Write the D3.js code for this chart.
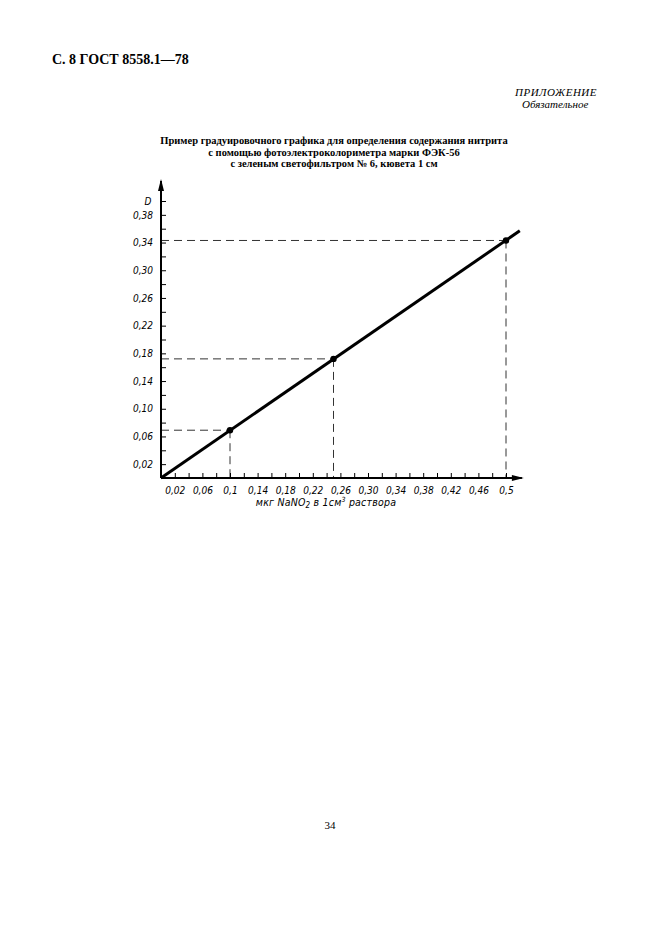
<!DOCTYPE html>
<html>
<head>
<meta charset="utf-8">
<script src="https://cdn.jsdelivr.net/npm/d3@7"></script>
<style>
  body { margin: 0; background: #fff; }
  .tick text { font-family: "Liberation Sans Narrow", "DejaVu Sans Condensed", sans-serif; font-style: italic; }
</style>
</head>
<body>
<div id="chart"></div>
<script>
// data
var pointsX = [0.1, 0.25, 0.5];
var pointsY = [0.069, 0.172, 0.343];
var lineX = [0, 0.52];
var lineY = [0, 0.357];
var xTickValues = d3.range(0.02, 0.501, 0.02);
var xLabelValues = [0.02, 0.06, 0.1, 0.14, 0.18, 0.22, 0.26, 0.30, 0.34, 0.38, 0.42, 0.46, 0.5];
var xLabels = ["0,02", "0,06", "0,1", "0,14", "0,18", "0,22", "0,26", "0,30", "0,34", "0,38", "0,42", "0,46", "0,5"];
var yTickValues = d3.range(0.02, 0.401, 0.02);
var yLabelValues = [0.02, 0.06, 0.10, 0.14, 0.18, 0.22, 0.26, 0.30, 0.34, 0.38];
var yLabels = ["0,02", "0,06", "0,10", "0,14", "0,18", "0,22", "0,26", "0,30", "0,34", "0,38"];
var titleLines = [
  "Пример градуировочного графика для определения содержания нитрита",
  "с помощью фотоэлектроколориметра марки ФЭК-56",
  "с зеленым светофильтром № 6, кювета 1 см"
];

var width = 661, height = 936;
var svg = d3.select("#chart").append("svg")
    .attr("width", width)
    .attr("height", height);
svg.append("rect").attr("width", width).attr("height", height).attr("fill", "#fff");

// page header
svg.append("text")
    .attr("x", 52).attr("y", 64)
    .style("font-family", "Liberation Serif, serif")
    .style("font-weight", "bold")
    .style("font-size", "14px")
    .text("С. 8 ГОСТ 8558.1—78");
svg.append("text")
    .attr("x", 597).attr("y", 96)
    .attr("text-anchor", "end")
    .style("font-family", "Liberation Serif, serif")
    .style("font-style", "italic")
    .style("font-size", "11px")
    .style("letter-spacing", "0.5px")
    .text("ПРИЛОЖЕНИЕ");
svg.append("text")
    .attr("x", 522).attr("y", 108)
    .style("font-family", "Liberation Serif, serif")
    .style("font-style", "italic")
    .style("font-size", "11px")
    .text("Обязательное");

// title
svg.selectAll(".title")
  .data(titleLines)
  .enter().append("text")
    .attr("class", "title")
    .attr("x", 334)
    .attr("y", function(d, i) { return 144 + i * 11.5; })
    .attr("text-anchor", "middle")
    .style("font-family", "Liberation Serif, serif")
    .style("font-weight", "bold")
    .style("font-size", "10.5px")
    .text(function(d) { return d; });

// scales
var x = d3.scaleLinear().domain([0, 0.5]).range([161, 506]);
var y = d3.scaleLinear().domain([0, 0.4]).range([478, 201]);

var g = svg.append("g");

// dashed guide lines
pointsX.forEach(function(px, i) {
  var py = pointsY[i];
  g.append("line")
      .attr("x1", x(0)).attr("y1", y(py))
      .attr("x2", x(px)).attr("y2", y(py))
      .attr("stroke", "#333").attr("stroke-width", 1)
      .attr("stroke-dasharray", "8,5");
  g.append("line")
      .attr("x1", x(px)).attr("y1", y(py))
      .attr("x2", x(px)).attr("y2", y(0))
      .attr("stroke", "#333").attr("stroke-width", 1)
      .attr("stroke-dasharray", "8,5");
});

// x axis: ticks point up, labels below
var xTicks = g.append("g")
    .attr("transform", "translate(0," + y(0) + ")")
    .call(d3.axisTop(x).tickValues(xTickValues).tickSize(5).tickFormat(""));
xTicks.select(".domain").remove();
var xLab = g.append("g")
    .attr("transform", "translate(0," + y(0) + ")")
    .call(d3.axisBottom(x).tickValues(xLabelValues).tickSize(0)
      .tickFormat(function(d, i) { return xLabels[i]; }));
xLab.select(".domain").remove();
xLab.selectAll("text").attr("dy", "1.25em").style("font-size", "10px");

// y axis: ticks point right, labels left
var yTicks = g.append("g")
    .attr("transform", "translate(" + x(0) + ",0)")
    .call(d3.axisRight(y).tickValues(yTickValues).tickSize(5).tickFormat(""));
yTicks.select(".domain").remove();
var yLab = g.append("g")
    .attr("transform", "translate(" + x(0) + ",0)")
    .call(d3.axisLeft(y).tickValues(yLabelValues).tickSize(0)
      .tickFormat(function(d, i) { return yLabels[i]; }));
yLab.select(".domain").remove();
yLab.selectAll("text").attr("x", -8).style("font-size", "10px");

// axis lines with arrows
g.append("line")
    .attr("x1", x(0)).attr("y1", y(0))
    .attr("x2", x(0.523)).attr("y2", y(0))
    .attr("stroke", "#000").attr("stroke-width", 2);
g.append("path")
    .attr("d", "M" + (x(0.523) + 2) + "," + y(0) + " l-12,-3 l0,6 z")
    .attr("fill", "#000");
g.append("line")
    .attr("x1", x(0)).attr("y1", y(0))
    .attr("x2", x(0)).attr("y2", y(0.429))
    .attr("stroke", "#000").attr("stroke-width", 2);
g.append("path")
    .attr("d", "M" + x(0) + "," + (y(0.429) - 2) + " l-3,12 l6,0 z")
    .attr("fill", "#000");

// axis titles
g.append("text")
    .attr("x", x(0) - 13).attr("y", y(0.4) + 4)
    .attr("text-anchor", "middle")
    .style("font-family", "Liberation Sans Narrow, DejaVu Sans Condensed, sans-serif")
    .style("font-style", "italic")
    .style("font-size", "10px")
    .text("D");
var xt = g.append("text")
    .attr("x", 326).attr("y", 506)
    .attr("text-anchor", "middle")
    .style("font-family", "Liberation Sans Narrow, DejaVu Sans Condensed, sans-serif")
    .style("font-style", "italic")
    .style("font-size", "10.5px")
    .style("letter-spacing", "0.2px");
xt.append("tspan").text("мкг NaNO");
xt.append("tspan").attr("dy", 2).style("font-size", "8px").text("2");
xt.append("tspan").attr("dy", -2).text(" в 1см");
xt.append("tspan").attr("dy", -4).style("font-size", "7px").text("3");
xt.append("tspan").attr("dy", 4).text(" раствора");

// calibration line
var line = d3.line()
    .x(function(d) { return x(d); })
    .y(function(d, i) { return y(lineY[i]); });
g.append("path")
    .datum(lineX)
    .attr("fill", "none")
    .attr("stroke", "#000")
    .attr("stroke-width", 3)
    .attr("d", line);

// measured points
g.selectAll(".dot")
  .data(pointsX)
  .enter().append("circle")
    .attr("class", "dot")
    .attr("cx", function(d) { return x(d); })
    .attr("cy", function(d, i) { return y(pointsY[i]); })
    .attr("r", 3.2)
    .attr("fill", "#000");

// page number
svg.append("text")
    .attr("x", 330).attr("y", 829)
    .attr("text-anchor", "middle")
    .style("font-family", "Liberation Serif, serif")
    .style("font-size", "11px")
    .text("34");
</script>
</body>
</html>
